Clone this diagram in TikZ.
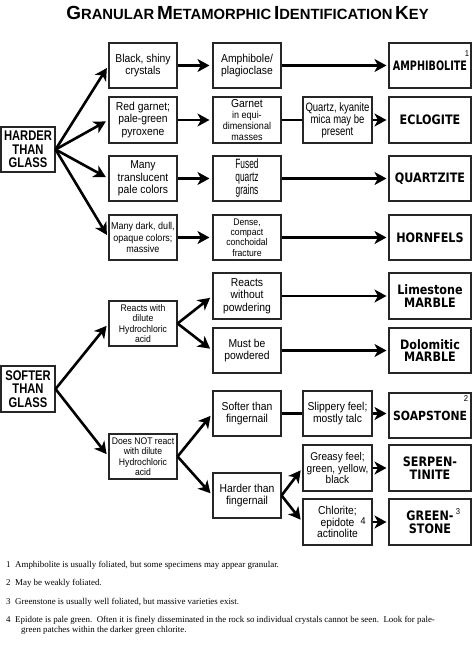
\documentclass[tikz,border=0pt]{standalone}
\usepackage{fontspec}
\usetikzlibrary{arrows.meta}
\setmainfont{Liberation Serif}
\newfontfamily\bxf[FakeStretch=0.9]{Liberation Sans}
\newfontfamily\bxn[FakeStretch=0.78]{Liberation Sans}
\newfontfamily\bxu[FakeStretch=0.62]{Liberation Sans}
\newfontfamily\hgf[FakeStretch=0.8]{Liberation Sans}
\newfontfamily\resf[FakeStretch=0.86]{DejaVu Sans}
\newfontfamily\resn[FakeStretch=0.74]{DejaVu Sans}
\newfontfamily\ttlf{Liberation Sans}
\newcommand\tcap[2]{{\fontsize{19}{19}\selectfont #1}{\fontsize{14.8}{14.8}\selectfont #2}}
\newcommand\bx[7][]{\node[box,#1,minimum width={(#5-#3)*1pt},minimum height={(#6-#4)*1pt}] (#2) at ({(#3+#5)/2},{(#4+#6)/2}) {#7};}
\tikzset{
  box/.style={draw=black!85,line width=1.1pt,inner sep=0pt,align=center,fill=white,
    font=\bxf\fontsize{11.5}{12.5}\selectfont},
  small/.style={font=\bxf\fontsize{10}{11.3}\selectfont},
  tiny/.style={font=\bxf\fontsize{9.6}{10.4}\selectfont},
  big/.style={font=\hgf\bfseries\fontsize{14}{13.4}\selectfont},
  res/.style={font=\resf\bfseries\fontsize{13}{12.8}\selectfont},
  sup/.style={font=\bxf\fontsize{8.5}{8.5}\selectfont,inner sep=0pt},
  arr/.style={line width=2.6pt,-{Stealth[length=12pt,width=13pt,inset=3.5pt]}},
  lin/.style={line width=2.6pt},
  note/.style={font=\fontsize{8.9}{10}\selectfont,inner sep=0pt,anchor=base west},
}
\begin{document}
\begin{tikzpicture}[x=1pt,y=-1pt]
\useasboundingbox[fill=white] (0,0) rectangle (474,645);
% title
\node[font=\ttlf\bfseries,anchor=base,inner sep=0pt] (title) at (247.5,19.5)
  {\tcap{G}{RANULAR} \tcap{M}{ETAMORPHIC} \tcap{I}{DENTIFICATION} \tcap{K}{EY}};
% harder than glass
\bx[big]{hard}{1}{127}{55}{172}{HARDER\\THAN\\GLASS}
\bx{b1}{109}{43}{177}{88}{Black, shiny\\crystals}
\bx{b2}{109}{97}{177}{143}{Red garnet;\\pale-green\\pyroxene}
\bx{b3}{109}{156}{177}{201}{Many\\translucent\\pale colors}
\bx[small]{b4}{109}{215}{177}{260}{Many dark, dull,\\opaque colors;\\massive}
\bx{c1}{213}{43}{281}{88}{Amphibole/\\plagioclase}
\bx[small]{c2}{213}{97}{281}{143}{{\fontsize{11.5}{11.5}\selectfont Garnet}\\in equi-\\dimensional\\masses}
\bx[font=\bxu\fontsize{13.5}{13}\selectfont]{c3}{213}{156}{281}{201}{Fused\\quartz\\grains}
\bx[tiny]{c4}{213}{215}{281}{260}{Dense,\\compact\\conchoidal\\fracture}
\bx[font=\bxn\fontsize{12.2}{10.2}\selectfont]{d2}{303}{97}{372}{143}{Quartz, kyanite\\mica may be\\present}
\bx[res,font=\resn\bfseries\fontsize{13}{13}\selectfont]{r1}{389}{43}{471}{88}{AMPHIBOLITE}
\bx[res]{r2}{389}{97}{471}{143}{ECLOGITE}
\bx[res]{r3}{389}{156}{471}{201}{QUARTZITE}
\bx[res]{r4}{389}{215}{471}{260}{HORNFELS}
% softer than glass
\bx[big]{soft}{1}{366}{55}{412}{SOFTER\\THAN\\GLASS}
\bx[tiny]{s1}{109}{301}{177}{346}{Reacts with\\dilute\\Hydrochloric\\acid}
\bx[tiny]{s2}{109}{434}{177}{479}{Does NOT react\\with dilute\\Hydrochloric\\acid}
\bx{t1}{213}{273}{281}{319}{Reacts\\without\\powdering}
\bx{t2}{213}{328}{281}{373}{Must be\\powdered}
\bx{t3}{213}{391}{281}{436}{Softer than\\fingernail}
\bx{t4}{213}{473}{281}{518}{Harder than\\fingernail}
\bx{u3}{303}{391}{372}{436}{Slippery feel;\\mostly talc}
\bx[font=\bxf\fontsize{11.2}{11.4}\selectfont]{u4}{303}{445}{372}{491}{Greasy feel;\\green, yellow,\\black}
\bx[font=\bxf\fontsize{11.5}{11.8}\selectfont]{u5}{303}{499}{372}{545}{Chlorite;\\epidote\\actinolite}
\bx[res]{q1}{389}{273}{471}{319}{Limestone\\MARBLE}
\bx[res]{q2}{389}{328}{471}{373}{Dolomitic\\MARBLE}
\bx[res,font=\resf\bfseries\fontsize{12.6}{12.6}\selectfont,text depth=0pt,yshift=-2pt]{q3}{389}{391}{471}{436}{SOAPSTONE}
\bx[res]{q4}{389}{445}{471}{491}{SERPEN-\\TINITE}
\bx[res]{q5}{389}{499}{471}{545}{GREEN-\\STONE}
% superscripts
\node[sup] (m1) at (467,54) {1};
\node[sup] (m2) at (466,399) {2};
\node[sup] (m3) at (458,512) {3};
\node[sup,font=\bxf\fontsize{10}{10}\selectfont] (m4) at (363,521) {4};
% connectors: harder
\draw[arr,shorten >=3pt] (hard.east) -- (b1.west);
\draw[arr,shorten >=3pt] (hard.east) -- (b2.west);
\draw[arr,shorten >=3pt] (hard.east) -- (b3.west);
\draw[arr,shorten >=3pt] (hard.east) -- (b4.west);
\foreach \a/\b in {b1/c1,b2/c2,b3/c3,b4/c4}
  \draw[arr,shorten >=3pt] (\a.east) -- (\b.west);
\foreach \a/\b in {c1/r1,c3/r3,c4/r4}
  \draw[arr,shorten >=2pt] (\a.east) -- (\b.west);
\draw[lin] (c2.east) -- (d2.west);
\draw[arr,shorten >=2pt] (d2.east) -- (r2.west);
% connectors: softer
\draw[arr,shorten >=3pt] (soft.east) -- (s1.west);
\draw[arr,shorten >=3pt] (soft.east) -- (s2.west);
\draw[arr,shorten >=3pt] (s1.east) -- (t1.west);
\draw[arr,shorten >=3pt] (s1.east) -- (t2.west);
\draw[arr,shorten >=3pt] (s2.east) -- (t3.west);
\draw[arr,shorten >=3pt] (s2.east) -- (t4.west);
\draw[arr,shorten >=2pt] (t1.east) -- (q1.west);
\draw[arr,shorten >=2pt] (t2.east) -- (q2.west);
\draw[lin] (t3.east) -- (u3.west);
\draw[arr,shorten >=2pt] (u3.east) -- (q3.west |- u3.east);
\draw[arr,shorten >=3pt] (t4.east) -- (u4.west);
\draw[arr,shorten >=3pt] (t4.east) -- (u5.west);
\draw[arr,shorten >=2pt] (u4.east) -- (q4.west);
\draw[arr,shorten >=2pt] (u5.east) -- (q5.west);
% footnotes
\node[note] (n1) at (6,567) {1};
\node[note] (f1) at (15,567) {Amphibolite is usually foliated, but some specimens may appear granular.};
\node[note] (n2) at (6,585) {2};
\node[note] (f2) at (15,585) {May be weakly foliated.};
\node[note] (n3) at (6,604) {3};
\node[note] (f3) at (15,604) {Greenstone is usually well foliated, but massive varieties exist.};
\node[note] (n4) at (6,622) {4};
\node[note] (f4) at (15,622) {Epidote is pale green.\ \ Often it is finely disseminated in the rock so individual crystals cannot be seen.\ \ Look for pale-};
\node[note] (f5) at (21,632) {green patches within the darker green chlorite.};
\end{tikzpicture}
\end{document}
